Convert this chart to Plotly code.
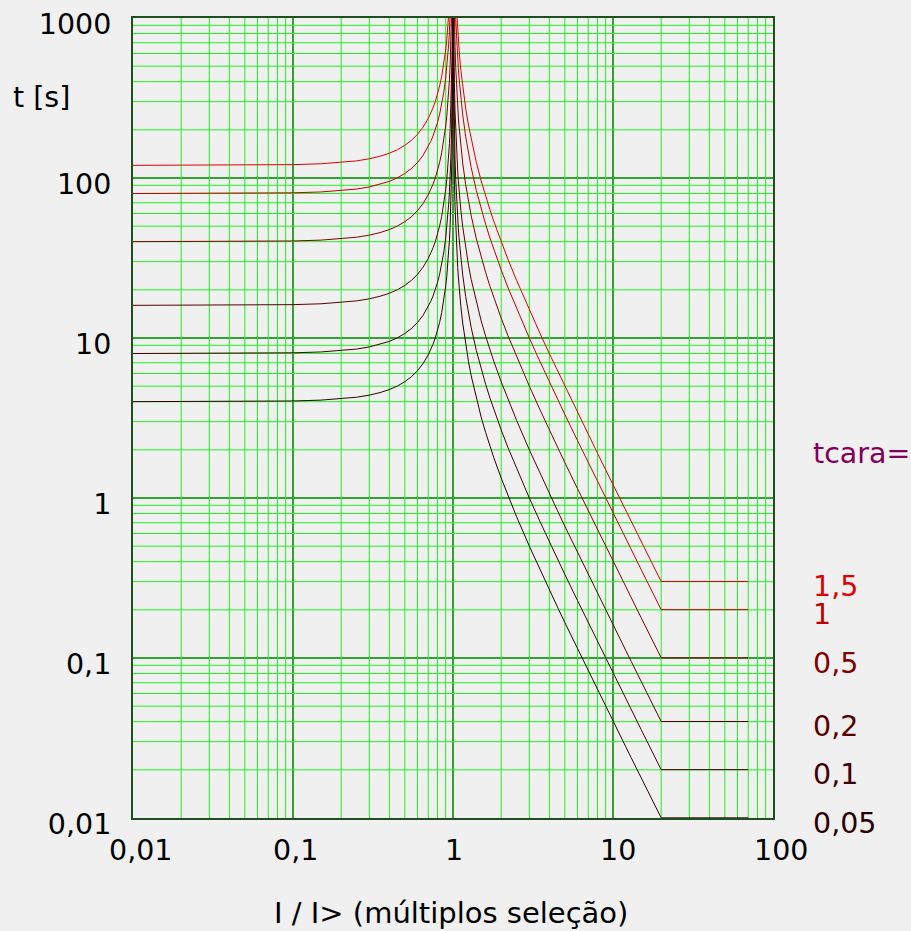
import math
import plotly.graph_objects as go

# multiples of the pick-up current I/I>
i_ratio = [0.01, 0.03, 0.1, 0.15, 0.2, 0.25, 0.3, 0.35, 0.4, 0.45,
           0.5, 0.55, 0.6, 0.65, 0.7, 0.725, 0.75, 0.775, 0.8, 0.825,
           0.85, 0.875, 0.9, 0.915, 0.93, 0.94, 0.95, 0.96, 0.97, 0.98,
           0.985, 0.99, 0.992, 0.995, 0.997, 0.999,
           1.001, 1.002, 1.005, 1.01, 1.015, 1.02, 1.03, 1.04, 1.05, 1.06,
           1.07, 1.08, 1.09, 1.1, 1.12, 1.15, 1.2, 1.25, 1.3, 1.4,
           1.5, 1.6, 1.7, 1.8, 2, 2.2, 2.5, 3, 3.5, 4,
           4.5, 5, 6, 7, 8, 9, 10, 11, 12, 13,
           15, 17, 20, 70]
t_ref = [80.0, 80.1, 80.8, 81.8, 83.3, 85.3, 87.9, 91.2, 95.2, 100.3,
         106.7, 114.7, 125, 138.5, 156.9, 168.6, 182.9, 200.3, 222.2, 250.5,
         288.3, 341.3, 421.1, 491.4, 592, 687.3, 820.5, 1020, 1354, 2020,
         2687, 4020, 5020, 8020, 13353, 40020,
         39980, 19980, 7980, 3980, 2647, 1980, 1313, 980, 780.5, 647.2,
         552, 480.8, 425.3, 381, 314.5, 248, 181.8, 142.2, 115.9, 83.3,
         64, 51.3, 42.3, 35.7, 26.67, 20.8, 15.24, 10, 7.11, 5.33,
         4.16, 3.33, 2.286, 1.667, 1.27, 1.0, 0.808, 0.667, 0.559, 0.476,
         0.357, 0.278, 0.2005, 0.2005]

tcara = [1.5, 1, 0.5, 0.2, 0.1, 0.05]
tcara_text = ["1,5", "1", "0,5", "0,2", "0,1", "0,05"]
colors = ["#e00000", "#c00000", "#800000", "#550000", "#400000", "#2a0000"]

decades = [0.01, 0.1, 1, 10, 100, 1000]
decade_text = ["0,01", "0,1", "1", "10", "100", "1000"]

font = "DejaVu Sans"
fs = 28.5

fig = go.Figure()

# minor grid (2..9 in every decade) drawn as plain lines
minor_x = [m * d for d in decades[:4] for m in range(2, 10)]
minor_y = [m * d for d in decades[:5] for m in range(2, 10)]
gx, gy = [], []
for v in minor_x:
    gx += [v, v, None]
    gy += [0.01, 1000, None]
for v in minor_y:
    gx += [0.01, 100, None]
    gy += [v, v, None]
fig.add_trace(go.Scatter(x=gx, y=gy, mode="lines",
                         line=dict(color="#22f022", width=1),
                         hoverinfo="skip", showlegend=False))

for k, col in zip(tcara, colors):
    fig.add_trace(go.Scatter(
        x=i_ratio, y=[k * t for t in t_ref], mode="lines",
        line=dict(color=col, width=1), hoverinfo="skip", showlegend=False))

fig.update_xaxes(
    type="log", range=[-2, 2], automargin=False,
    tickvals=decades[:5], showticklabels=False,
    showgrid=True, gridcolor="#35a035", gridwidth=2,
    showline=True, linecolor="#1f4f1f", linewidth=2, mirror=True,
    ticks="", zeroline=False)

fig.update_yaxes(
    type="log", range=[-2, 3], automargin=False,
    tickvals=decades, ticktext=decade_text,
    showgrid=True, gridcolor="#35a035", gridwidth=2,
    showline=True, linecolor="#1f4f1f", linewidth=2, mirror=True,
    ticks="", zeroline=False, ticklabelshift=6, ticklabelstandoff=14,
    tickfont=dict(family=font, size=fs, color="#000000"))

# x tick labels, placed a little right of their grid lines as in the original
for v, lab, dx in zip(decades[:5], decade_text[:5], [7, 2, 1, 5, 8]):
    fig.add_annotation(x=math.log10(v), xref="x", y=-0.04, yref="paper",
                       xshift=dx, text=lab, showarrow=False,
                       xanchor="center", yanchor="middle",
                       font=dict(family=font, size=fs, color="#000000"))

# curve labels on the right
fig.add_annotation(x=1.059, xref="paper", y=0.28, yref="y", text="tcara=",
                   showarrow=False, xanchor="left", yanchor="middle",
                   font=dict(family=font, size=fs, color="#80005a"))
for k, lab, col in zip(tcara, tcara_text, colors):
    fig.add_annotation(x=1.059, xref="paper", y=math.log10(k * 0.2),
                       yref="y", yshift=-5, text=lab, showarrow=False,
                       xanchor="left", yanchor="middle",
                       font=dict(family=font, size=fs, color=col))

# axis titles
fig.add_annotation(x=-0.19, xref="paper", y=0.9, yref="paper", text="t [s]",
                   showarrow=False, xanchor="left", yanchor="middle",
                   font=dict(family=font, size=fs, color="#000000"))
fig.add_annotation(x=0.497, xref="paper", y=-0.119, yref="paper",
                   text="I / I> (múltiplos seleção)", showarrow=False,
                   xanchor="center", yanchor="middle",
                   font=dict(family=font, size=29, color="#000000"))

fig.update_layout(
    width=911, height=931,
    margin=dict(l=133, r=138, t=18, b=113),
    paper_bgcolor="#f0f0f0", plot_bgcolor="#f0f0f0",
    showlegend=False)

# drop the default page margin so the figure fills the window
fig.write_html("out.html", config={"displayModeBar": False}, post_script=(
    "document.body.style.margin='0';"
    "document.body.style.background='#f0f0f0';"
    "document.body.style.overflow='hidden';"))
